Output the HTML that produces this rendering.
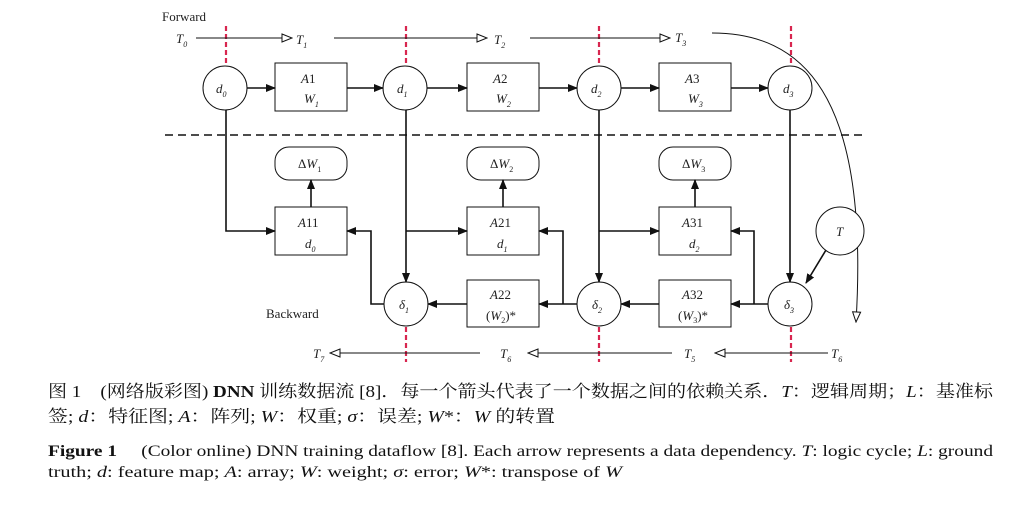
<!DOCTYPE html>
<html><head><meta charset="utf-8"><style>
body{margin:0;background:#fff;width:1030px;height:507px;overflow:hidden}
svg{display:block}
.s{font-family:"Liberation Serif",serif;font-size:13px;fill:#222}
.i{font-style:italic}
.sub{font-size:8px}
.cn{font-family:"Liberation Serif","Noto Serif CJK SC","Noto Sans CJK SC",serif;font-size:17px;fill:#111}
.en{font-family:"Liberation Serif",serif;font-size:15.5px;fill:#111}
</style></head><body>
<svg width="1030" height="507" viewBox="0 0 1030 507" xmlns="http://www.w3.org/2000/svg">
<defs>
<marker id="a" markerWidth="10" markerHeight="8" refX="9" refY="4" orient="auto" markerUnits="userSpaceOnUse"><path d="M0,0 L10,4 L0,8 z" fill="#111"/></marker>
<marker id="o" markerWidth="12" markerHeight="10" refX="11" refY="5" orient="auto" markerUnits="userSpaceOnUse"><path d="M1,1 L11,5 L1,9 z" fill="#fff" stroke="#111" stroke-width="1"/></marker>
</defs>
<g stroke="#d8264f" stroke-width="2.2" stroke-dasharray="5,3">
<line x1="226" y1="26" x2="226" y2="63"/><line x1="406" y1="26" x2="406" y2="63"/><line x1="599" y1="26" x2="599" y2="63"/><line x1="791" y1="26" x2="791" y2="63"/>
<line x1="406" y1="327" x2="406" y2="362"/><line x1="599" y1="327" x2="599" y2="362"/><line x1="791" y1="327" x2="791" y2="362"/>
</g>
<line x1="165" y1="135" x2="865" y2="135" stroke="#111" stroke-width="1.6" stroke-dasharray="8,5"/>
<g stroke="#111" stroke-width="1" fill="none">
<line x1="196" y1="38" x2="292" y2="38" marker-end="url(#o)"/>
<line x1="334" y1="38" x2="487" y2="38" marker-end="url(#o)"/>
<line x1="530" y1="38" x2="670" y2="38" marker-end="url(#o)"/>
<path d="M712,33 C800,33 870,90 856,322" marker-end="url(#o)"/>
<line x1="480" y1="353" x2="330" y2="353" marker-end="url(#o)"/>
<line x1="672" y1="353" x2="528" y2="353" marker-end="url(#o)"/>
<line x1="828" y1="353" x2="715" y2="353" marker-end="url(#o)"/>
</g>
<g stroke="#111" stroke-width="1" fill="#fff">
<circle cx="225" cy="88" r="22"/><circle cx="405" cy="88" r="22"/><circle cx="599" cy="88" r="22"/><circle cx="790" cy="88" r="22"/>
<circle cx="406" cy="304" r="22"/><circle cx="599" cy="304" r="22"/><circle cx="790" cy="304" r="22"/>
<circle cx="840" cy="231" r="24"/>
<rect x="275" y="63" width="72" height="48"/><rect x="467" y="63" width="72" height="48"/><rect x="659" y="63" width="72" height="48"/>
<rect x="275" y="207" width="72" height="48"/><rect x="467" y="207" width="72" height="48"/><rect x="659" y="207" width="72" height="48"/>
<rect x="467" y="280" width="72" height="47"/><rect x="659" y="280" width="72" height="47"/>
<rect x="275" y="147" width="72" height="33" rx="14"/><rect x="467" y="147" width="72" height="33" rx="14"/><rect x="659" y="147" width="72" height="33" rx="14"/>
</g>
<g stroke="#111" stroke-width="1.6" fill="none">
<line x1="247" y1="88" x2="275" y2="88" marker-end="url(#a)"/>
<line x1="347" y1="88" x2="383" y2="88" marker-end="url(#a)"/>
<line x1="427" y1="88" x2="467" y2="88" marker-end="url(#a)"/>
<line x1="539" y1="88" x2="577" y2="88" marker-end="url(#a)"/>
<line x1="621" y1="88" x2="659" y2="88" marker-end="url(#a)"/>
<line x1="731" y1="88" x2="768" y2="88" marker-end="url(#a)"/>
<line x1="311" y1="207" x2="311" y2="180" marker-end="url(#a)"/>
<line x1="503" y1="207" x2="503" y2="180" marker-end="url(#a)"/>
<line x1="695" y1="207" x2="695" y2="180" marker-end="url(#a)"/>
<path d="M226,110 V231 H275" marker-end="url(#a)"/>
<line x1="406" y1="110" x2="406" y2="282" marker-end="url(#a)"/>
<line x1="406" y1="231" x2="467" y2="231" marker-end="url(#a)"/>
<line x1="599" y1="110" x2="599" y2="282" marker-end="url(#a)"/>
<line x1="599" y1="231" x2="659" y2="231" marker-end="url(#a)"/>
<line x1="790" y1="110" x2="790" y2="282" marker-end="url(#a)"/>
<path d="M384,304 H371 V231 H347" marker-end="url(#a)"/>
<line x1="467" y1="304" x2="428" y2="304" marker-end="url(#a)"/>
<line x1="577" y1="304" x2="539" y2="304" marker-end="url(#a)"/>
<path d="M563,304 V231 H539" marker-end="url(#a)"/>
<line x1="659" y1="304" x2="621" y2="304" marker-end="url(#a)"/>
<line x1="768" y1="304" x2="731" y2="304" marker-end="url(#a)"/>
<path d="M754,304 V231 H731" marker-end="url(#a)"/>
<line x1="826" y1="250" x2="806" y2="283" marker-end="url(#a)"/>
</g>
<g class="s">
<text x="162" y="21">Forward</text>
<text x="266" y="318">Backward</text>
<text x="176" y="43" class="i">T<tspan class="sub" dy="4">0</tspan></text>
<text x="296" y="44" class="i">T<tspan class="sub" dy="4">1</tspan></text>
<text x="494" y="44" class="i">T<tspan class="sub" dy="4">2</tspan></text>
<text x="675" y="42" class="i">T<tspan class="sub" dy="4">3</tspan></text>
<text x="313" y="358" class="i">T<tspan class="sub" dy="4">7</tspan></text>
<text x="500" y="358" class="i">T<tspan class="sub" dy="4">6</tspan></text>
<text x="684" y="358" class="i">T<tspan class="sub" dy="4">5</tspan></text>
<text x="831" y="358" class="i">T<tspan class="sub" dy="4">6</tspan></text>
<text x="216" y="93" class="i">d<tspan class="sub" dy="4">0</tspan></text>
<text x="397" y="93" class="i">d<tspan class="sub" dy="4">1</tspan></text>
<text x="591" y="93" class="i">d<tspan class="sub" dy="4">2</tspan></text>
<text x="783" y="93" class="i">d<tspan class="sub" dy="4">3</tspan></text>
<text x="399" y="309" class="i">δ<tspan class="sub" dy="4">1</tspan></text>
<text x="592" y="309" class="i">δ<tspan class="sub" dy="4">2</tspan></text>
<text x="784" y="309" class="i">δ<tspan class="sub" dy="4">3</tspan></text>
<text x="836" y="236" class="i">T</text>
<text x="301" y="83"><tspan class="i">A</tspan>1</text><text x="304" y="103" class="i">W<tspan class="sub" dy="4">1</tspan></text>
<text x="493" y="83"><tspan class="i">A</tspan>2</text><text x="496" y="103" class="i">W<tspan class="sub" dy="4">2</tspan></text>
<text x="685" y="83"><tspan class="i">A</tspan>3</text><text x="688" y="103" class="i">W<tspan class="sub" dy="4">3</tspan></text>
<text x="298" y="168">Δ<tspan class="i">W</tspan><tspan class="sub" dy="4">1</tspan></text>
<text x="490" y="168">Δ<tspan class="i">W</tspan><tspan class="sub" dy="4">2</tspan></text>
<text x="682" y="168">Δ<tspan class="i">W</tspan><tspan class="sub" dy="4">3</tspan></text>
<text x="298" y="227"><tspan class="i">A</tspan>11</text><text x="305" y="248" class="i">d<tspan class="sub" dy="4">0</tspan></text>
<text x="490" y="227"><tspan class="i">A</tspan>21</text><text x="497" y="248" class="i">d<tspan class="sub" dy="4">1</tspan></text>
<text x="682" y="227"><tspan class="i">A</tspan>31</text><text x="689" y="248" class="i">d<tspan class="sub" dy="4">2</tspan></text>
<text x="490" y="299"><tspan class="i">A</tspan>22</text><text x="486" y="320">(<tspan class="i">W</tspan><tspan class="sub" dy="3">2</tspan><tspan dy="-3">)*</tspan></text>
<text x="682" y="299"><tspan class="i">A</tspan>32</text><text x="678" y="320">(<tspan class="i">W</tspan><tspan class="sub" dy="3">3</tspan><tspan dy="-3">)*</tspan></text>
</g>
<text class="cn" x="48" y="397" textLength="945" lengthAdjust="spacingAndGlyphs">图 1　(网络版彩图) <tspan font-weight="bold">DNN</tspan> 训练数据流 [8]．每一个箭头代表了一个数据之间的依赖关系．<tspan font-style="italic">T</tspan>：逻辑周期；<tspan font-style="italic">L</tspan>：基准标</text>
<text class="cn" x="48" y="422" textLength="507" lengthAdjust="spacingAndGlyphs">签; <tspan font-style="italic">d</tspan>：特征图; <tspan font-style="italic">A</tspan>：阵列; <tspan font-style="italic">W</tspan>：权重; <tspan font-style="italic">σ</tspan>：误差; <tspan font-style="italic">W</tspan>*：<tspan font-style="italic">W</tspan> 的转置</text>
<text class="en" x="48" y="456" textLength="945" lengthAdjust="spacingAndGlyphs"><tspan font-weight="bold">Figure 1</tspan>　 (Color online) DNN training dataflow [8]. Each arrow represents a data dependency. <tspan font-style="italic">T</tspan>: logic cycle; <tspan font-style="italic">L</tspan>: ground</text>
<text class="en" x="48" y="477" textLength="574" lengthAdjust="spacingAndGlyphs">truth; <tspan font-style="italic">d</tspan>: feature map; <tspan font-style="italic">A</tspan>: array; <tspan font-style="italic">W</tspan>: weight; <tspan font-style="italic">σ</tspan>: error; <tspan font-style="italic">W</tspan>*: transpose of <tspan font-style="italic">W</tspan></text>
</svg>
</body></html>
